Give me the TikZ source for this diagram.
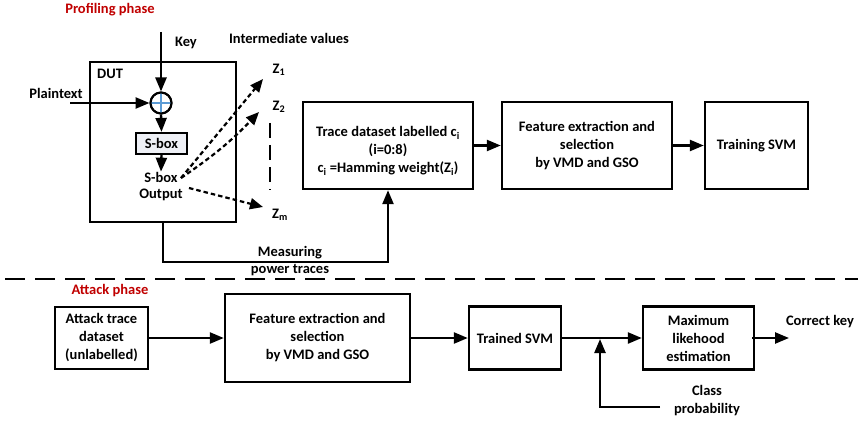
\documentclass[tikz,border=0pt]{standalone}
\usepackage{fontspec}
\setmainfont{Carlito}
\usetikzlibrary{arrows.meta}
\definecolor{phasered}{HTML}{C00000}
\definecolor{xorblue}{HTML}{5B9BD5}
\definecolor{sboxfill}{HTML}{EEF0F6}
\begin{document}
\begin{tikzpicture}[x=1pt,y=-1pt,
  font=\bfseries\fontsize{14.5}{18}\selectfont,
  box/.style={draw, line width=2.4pt, align=center, inner sep=0pt},
  arr/.style={line width=2.4pt, -{Triangle[length=14pt,width=11pt]}},
  dotarr/.style={line width=2.2pt, dash pattern=on 4.5pt off 3pt, -{Triangle[length=13pt,width=11pt]}},
  lbl/.style={align=center, inner sep=0pt},
  phase/.style={lbl, text=phasered},
]
\useasboundingbox (0,0) rectangle (858,422);
% ---------------- profiling phase ----------------
\node[phase] (prof) at (110,10) {Profiling phase};
\node[box, minimum width=146pt, minimum height=160pt] (dut) at (163,142) {};
\node[lbl, anchor=west] (dutl) at (97,74) {DUT};
\node[lbl] (keyl) at (186,43) {Key};
\node[lbl] (interl) at (289,38) {Intermediate values};
\node[lbl] (ptl) at (56,93) {Plaintext};
\node[draw, circle, line width=2pt, fill=white, minimum size=21pt, inner sep=0pt] (xor) at (161,103) {};
\draw[line width=2.6pt, color=xorblue] ([yshift=-1.5pt]xor.north) -- ([yshift=1.5pt]xor.south)
  ([xshift=1.5pt]xor.west) -- ([xshift=-1.5pt]xor.east);
\node[draw, circle, line width=2pt, minimum size=21pt, inner sep=0pt] (xorring) at (161,103) {};
\node[box, line width=2.2pt, fill=sboxfill, minimum width=51pt, minimum height=21pt] (sbox) at (161.5,143.5) {S-box};
\node[lbl] (sbo1) at (161,177) {S-box};
\node[lbl] (sbo2) at (161,195) {Output};
\coordinate (keyin) at (161,32);
\coordinate (ptin) at (70,103);
\draw[arr] (keyin) -- (xor.north);
\draw[arr] (ptin) -- (xor.west);
\draw[arr] (xor.south) -- (sbox.north);
\draw[arr] (sbox.south) -- (sbo1.north);
\node[lbl] (z1) at (279,70) {Z\textsubscript{1}};
\node[lbl] (z2) at (279,107) {Z\textsubscript{2}};
\node[lbl] (zm) at (280,215) {Z\textsubscript{m}};
\coordinate (d0) at (181,178);
\coordinate (d1) at (263,79);
\coordinate (d2) at (259,112);
\coordinate (d3s) at (189,188);
\coordinate (d3) at (263,207);
\draw[dotarr] (d0) -- (d1);
\draw[dotarr] (d0) to[bend right=6] (d2);
\draw[dotarr] (d3s) -- (d3);
\coordinate (vd1) at (270,123);
\coordinate (vd2) at (270,190);
\draw[line width=2.4pt, dash pattern=on 15pt off 7pt] (vd1) -- (vd2);
% top row boxes
\node[box, minimum width=170pt, minimum height=87pt] (trace) at (388,145.5) {};
\node[lbl] (tracet) at (388,151) {Trace dataset labelled c\textsubscript{i}\\(i=0:8)\\c\textsubscript{i} =Hamming weight(Z\textsubscript{i})};
\node[box, minimum width=170pt, minimum height=87pt] (feat1) at (587,145.5) {Feature extraction and\\selection\\by VMD and GSO};
\node[box, minimum width=103pt, minimum height=87pt] (train) at (756.5,145.5) {Training SVM};
\draw[arr] (trace) -- (feat1);
\draw[arr] (feat1) -- (train);
\coordinate (meas) at (163,262);
\draw[arr] (dut.south) -- (meas) -| (trace.south);
\node[lbl] (measl1) at (290,253) {Measuring};
% separator
\coordinate (sepL) at (5,279);
\coordinate (sepR) at (858,279);
\draw[line width=2.4pt, dash pattern=on 20pt off 10pt] (sepL) -- (sepR);
\node[lbl] (measl2) at (290,270) {power traces};
% ---------------- attack phase ----------------
\node[phase] (att) at (110,291) {Attack phase};
\node[box, minimum width=93pt, minimum height=62pt] (attack) at (101.5,338) {Attack trace\\dataset\\(unlabelled)};
\node[box, minimum width=185pt, minimum height=88pt] (feat2) at (317.5,338) {Feature extraction and\\selection\\by VMD and GSO};
\node[box, minimum width=92pt, minimum height=63pt] (trained) at (515,338) {Trained SVM};
\node[box, minimum width=111pt, minimum height=63pt] (mle) at (698.5,338) {Maximum\\likehood\\estimation};
\draw[arr] (attack) -- (feat2);
\draw[arr] (feat2) -- (trained);
\draw[arr] (trained) -- (mle);
\coordinate (cp) at (660,407);
\coordinate (cj) at (600,339);
\draw[arr] (cp) -| (cj);
\node[lbl] (cpl) at (707,401) {Class\\probability};
\coordinate (ck) at (789,338);
\draw[arr] ([xshift=-3pt]mle.east) -- (ck);
\node[lbl] (ckl) at (820,322) {Correct key};
\end{tikzpicture}
\end{document}
